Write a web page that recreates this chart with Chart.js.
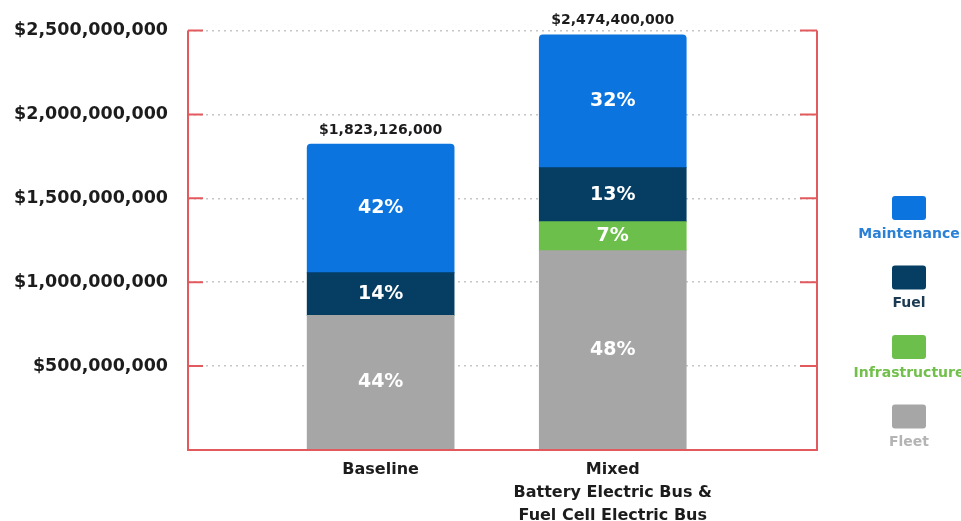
<!DOCTYPE html>
<html>
<head>
<meta charset="utf-8">
<script src="https://cdn.jsdelivr.net/npm/chart.js@4/dist/chart.umd.min.js"></script>
<style>
  html, body { margin: 0; padding: 0; background: #fff; }
  #wrap { width: 961px; height: 521px; position: relative; }
</style>
</head>
<body>
<div id="wrap"><canvas id="costChart" width="961" height="521"></canvas></div>
<script>
// scenario totals and the share of each cost type (bottom to top of the stack)
const categories = ["Baseline", ["Mixed", "Battery Electric Bus &", "Fuel Cell Electric Bus"]];
const xPositions = [1, 2];
const totals = [1823126000, 2474400000];
const fleetPct = [44, 48];
const infrastructurePct = [0, 7];
const fuelPct = [14, 13];
const maintenancePct = [42, 32];
const yMax = 2500000000;
const yStep = 500000000;

const RED = "#e35a5e";
const INK = "#1c1c1c";

const toPoints = (pct) =>
  xPositions.map((x, i) => ({ x: x, y: (totals[i] * pct[i]) / 100, pct: pct[i] }));

const series = [
  { label: "Fleet", pct: fleetPct, color: "#a6a6a6", text: "#b4b4b4" },
  { label: "Infrastructure", pct: infrastructurePct, color: "#6cbf4a", text: "#72c04c" },
  { label: "Fuel", pct: fuelPct, color: "#053d63", text: "#1c3a52" },
  { label: "Maintenance", pct: maintenancePct, color: "#0b74de", text: "#2a80d6" },
];

const datasets = series.map((s, i) => ({
  label: s.label,
  data: toPoints(s.pct),
  backgroundColor: s.color,
  legendText: s.text,
  barThickness: 147,
  borderSkipped: false,
  borderRadius: i === series.length - 1 ? { topLeft: 4, topRight: 4, bottomLeft: 0, bottomRight: 0 } : 0,
}));

const money = (v) => "$" + Math.round(v).toLocaleString("en-US");

// red frame on left/bottom/right with short inward ticks
const framePlugin = {
  id: "frame",
  afterDatasetsDraw(chart) {
    const { ctx, chartArea: a, scales } = chart;
    ctx.save();
    ctx.strokeStyle = RED;
    ctx.lineWidth = 2;
    ctx.beginPath();
    ctx.moveTo(a.left, scales.y.getPixelForValue(yMax));
    ctx.lineTo(a.left, a.bottom);
    ctx.lineTo(a.right, a.bottom);
    ctx.lineTo(a.right, scales.y.getPixelForValue(yMax));
    scales.y.ticks.forEach((t) => {
      const py = scales.y.getPixelForValue(t.value);
      ctx.moveTo(a.left, py);
      ctx.lineTo(a.left + 15, py);
      ctx.moveTo(a.right, py);
      ctx.lineTo(a.right - 17, py);
    });
    ctx.stroke();
    ctx.restore();
  },
};

// percentage inside each segment, scenario total above each stack
const labelPlugin = {
  id: "segmentLabels",
  afterDatasetsDraw(chart) {
    const { ctx } = chart;
    ctx.save();
    ctx.textAlign = "center";
    chart.data.datasets.forEach((ds, di) => {
      const meta = chart.getDatasetMeta(di);
      meta.data.forEach((el, i) => {
        const p = ds.data[i].pct;
        if (!p) return;
        ctx.fillStyle = "#ffffff";
        ctx.font = "bold 19px 'DejaVu Sans'";
        ctx.textBaseline = "middle";
        ctx.fillText(p + "%", el.x, (el.y + el.base) / 2);
      });
    });
    const topMeta = chart.getDatasetMeta(chart.data.datasets.length - 1);
    topMeta.data.forEach((el, i) => {
      ctx.fillStyle = INK;
      ctx.font = "bold 14px 'DejaVu Sans'";
      ctx.textBaseline = "bottom";
      ctx.fillText(money(totals[i]), el.x, el.y - 7);
    });
    ctx.restore();
  },
};

// legend column on the right: swatch with the name underneath
const legendPlugin = {
  id: "sideLegend",
  afterDraw(chart) {
    const { ctx } = chart;
    const cx = 909;
    const items = chart.data.datasets.slice().reverse();
    ctx.save();
    ctx.textAlign = "center";
    ctx.textBaseline = "middle";
    ctx.font = "bold 14px 'DejaVu Sans'";
    items.forEach((ds, i) => {
      const top = 196 + i * 69.5;
      ctx.fillStyle = ds.backgroundColor;
      ctx.beginPath();
      ctx.roundRect(cx - 17, top, 34, 24, 3);
      ctx.fill();
      ctx.fillStyle = ds.legendText;
      ctx.fillText(ds.label, cx, top + 38);
    });
    ctx.restore();
  },
};

Chart.defaults.font.family = "'DejaVu Sans', sans-serif";

new Chart(document.getElementById("costChart").getContext("2d"), {
  type: "bar",
  data: { datasets: datasets },
  options: {
    responsive: false,
    animation: false,
    layout: { padding: { top: 29, right: 144, left: 0, bottom: 0 } },
    plugins: {
      legend: { display: false },
      tooltip: { enabled: false },
    },
    scales: {
      x: {
        type: "linear",
        stacked: true,
        offset: false,
        min: 0.17,
        max: 2.88,
        afterBuildTicks: (scale) => {
          scale.ticks = xPositions.map((v) => ({ value: v }));
        },
        afterFit: (scale) => {
          scale.height = 71;
        },
        grid: { display: false, offset: false },
        border: { display: false },
        ticks: {
          autoSkip: false,
          maxRotation: 0,
          padding: 0,
          color: INK,
          font: { size: 16, weight: "bold", lineHeight: 1.45 },
          callback: (v) => categories[xPositions.indexOf(v)],
        },
      },
      y: {
        stacked: true,
        min: 0,
        max: yMax,
        afterFit: (scale) => {
          scale.width = 188;
        },
        grid: { color: "#c6c6c6", lineWidth: 1.5, drawTicks: false },
        border: { display: false, dash: [2, 4] },
        ticks: {
          stepSize: yStep,
          padding: 20,
          color: INK,
          font: { size: 17.5, weight: "bold" },
          callback: (v) => (v === 0 ? "" : money(v)),
        },
      },
    },
  },
  plugins: [framePlugin, labelPlugin, legendPlugin],
});
</script>
</body>
</html>
